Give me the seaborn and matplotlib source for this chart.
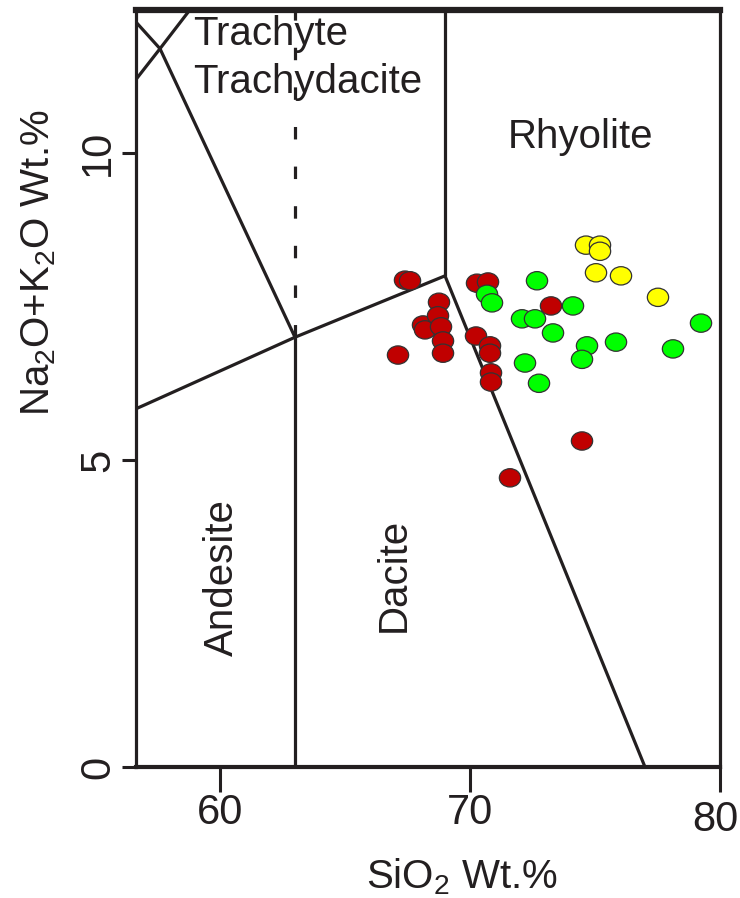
import numpy as np
import pandas as pd
import matplotlib
matplotlib.use("Agg")
import matplotlib.pyplot as plt
from matplotlib.path import Path
from matplotlib.transforms import Affine2D, ScaledTranslation
import seaborn as sns

# Sample compositions
red_sio2 = [67.4, 67.6, 68.76, 68.12, 68.2, 68.72, 68.84, 68.92, 68.92, 67.12,
            70.28, 70.72, 70.24, 70.8, 70.8, 70.84, 70.84, 73.24, 74.48, 71.6]
red_alk = [7.93, 7.92, 7.57, 7.20, 7.12, 7.35, 7.17, 6.94, 6.74, 6.71,
           7.88, 7.90, 7.02, 6.86, 6.74, 6.42, 6.27, 7.51, 5.31, 4.71]

green_sio2 = [72.68, 70.68, 70.88, 74.12, 72.08, 72.6, 73.32, 74.68, 74.48,
              75.84, 78.12, 79.24, 72.2, 72.76]
green_alk = [7.92, 7.70, 7.56, 7.51, 7.30, 7.30, 7.07, 6.86, 6.64,
             6.92, 6.81, 7.23, 6.58, 6.25]

yellow_sio2 = [74.64, 75.2, 75.2, 75.04, 76.04, 77.52]
yellow_alk = [8.50, 8.50, 8.40, 8.05, 8.00, 7.65]

# TAS field boundaries (Le Bas et al.)
boundaries = [
    ([63, 63], [0, 7]),
    ([52, 57, 63, 69], [5.0, 5.9, 7, 8]),
    ([69, 77], [8, 0]),
    ([69, 69], [8, 14]),
    ([63, 57.6, 52.5], [7, 11.7, 14]),
    ([53, 57.6, 61], [9.3, 11.7, 13.5]),
]
dashed_x = [63, 63]
dashed_y = [7, 12.4]

xticks = [60, 70, 80]
yticks = [0, 5, 10]

df = pd.DataFrame({
    "SiO2": red_sio2 + green_sio2 + yellow_sio2,
    "alk": red_alk + green_alk + yellow_alk,
    "group": ["red"] * len(red_sio2) + ["green"] * len(green_sio2) + ["yellow"] * len(yellow_sio2),
})
palette = {"red": "#C00000", "green": "#00FF00", "yellow": "#FFFF00"}

sns.set_style("ticks")
plt.rcParams["font.family"] = ["Liberation Sans", "DejaVu Sans"]
plt.rcParams["mathtext.default"] = "regular"

ink = "#231F20"
fig = plt.figure(figsize=(7.4, 8.98), dpi=100)
ax = fig.add_axes([136 / 740, 1 - 767 / 898, (720 - 136) / 740, (767 - 10) / 898])

for bx, by in boundaries:
    ax.plot(bx, by, color=ink, lw=2.3, solid_capstyle="butt")
ax.plot(dashed_x, dashed_y, color=ink, lw=2.3, linestyle=(0, (3.9, 8.5)))

# slightly flattened circle, like the markers in the source figure
ellipse = Path.unit_circle().transformed(Affine2D().scale(1.0, 0.86))
sns.scatterplot(data=df, x="SiO2", y="alk", hue="group", palette=palette,
                marker=ellipse, s=235, edgecolor="#333333", linewidth=0.9,
                legend=False, ax=ax, zorder=3)

ax.set_xlim(56.64, 80)
ax.set_ylim(0, 12.33)
ax.set_xticks(xticks)
ax.set_yticks(yticks)
ax.set_xlabel("")
ax.set_ylabel("")

for side, w in [("top", 4.5), ("bottom", 3.0), ("left", 2.3), ("right", 2.3)]:
    ax.spines[side].set_visible(True)
    ax.spines[side].set_linewidth(w)
    ax.spines[side].set_color(ink)

ax.tick_params(axis="x", length=18, width=2.2, pad=1, labelsize=30, color=ink, labelcolor=ink)
ax.tick_params(axis="y", length=10, width=2.2, pad=3, labelsize=30, color=ink, labelcolor=ink)
plt.setp(ax.get_yticklabels(), rotation=90, va="center")

# the last x label sits a bit lower and tucked in at the right edge
fig.canvas.draw()
last = ax.get_xticklabels()[-1]
last.set_transform(last.get_transform() + ScaledTranslation(-5 / 100, -7 / 100, fig.dpi_scale_trans))

# field names
lab = dict(fontsize=29, color=ink)
ax.text(58.92, 11.76, "Trachyte", ha="left", va="baseline", **lab)
ax.text(58.92, 10.98, "Trachydacite", ha="left", va="baseline", **lab)
ax.text(74.4, 10.26, "Rhyolite", ha="center", va="center", **lab)
ax.text(60.08, 3.09, "Andesite", ha="center", va="center", rotation=90, **lab)
ax.text(66.96, 3.13, "Dacite", ha="center", va="center", rotation=90, **lab)

fig.text(462 / 740, 10 / 898, r"SiO$_2$ Wt.%", ha="center", va="baseline", **lab)
fig.text(39 / 740, 1 - 263 / 898, r"Na$_2$O+K$_2$O Wt.%", ha="center", va="center",
         rotation=90, **lab)

fig.savefig("out.png", dpi=100)
